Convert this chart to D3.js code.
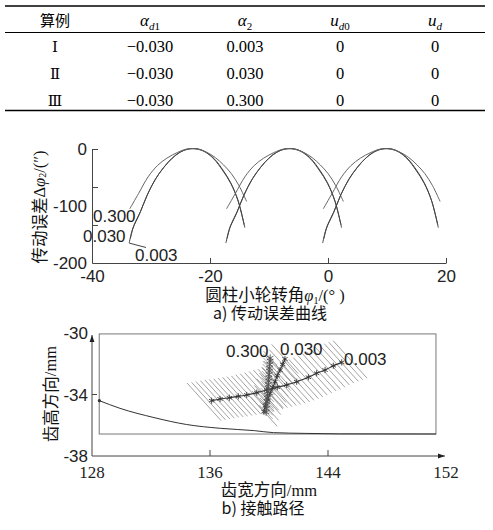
<!DOCTYPE html>
<html><head><meta charset="utf-8">
<script src="https://cdn.jsdelivr.net/npm/d3@7"></script>
<style>body{margin:0;background:#fff}svg{display:block}</style>
</head><body>
<svg id="c" width="493" height="530"></svg>
<script>
// ---------------- data ----------------
const caseLabels = ["Ⅰ","Ⅱ","Ⅲ"];
const alphaD1 = ["−0.030","−0.030","−0.030"];
const alpha2 = ["0.003","0.030","0.300"];
const uD0 = ["0","0","0"];
const uD = ["0","0","0"];

// chart a) transmission error, one profile per series repeated at each tooth centre
const toothCenters = [-22.9, -6.5, 9.9];
const seriesNames = ["0.003","0.030","0.300"];
const dx003 = [-10.8,-10.2,-9.0,-7.8,-6.4,-5.0,-3.6,-2.2,-0.8,0.8,2.2,3.6,5.0,6.4,7.7,8.8];
const err003 = [-165,-140,-113,-82,-54,-33,-17,-6,0,0,-6,-18,-37,-60,-92,-138];
const dx030 = [-10.6,-10.0,-8.9,-7.7,-6.3,-4.9,-3.5,-2.1,-0.7,0.9,2.3,3.7,5.1,6.4,7.6,8.7];
const err030 = [-157,-134,-110,-80,-52,-32,-16,-5,0,0,-6,-18,-37,-59,-89,-133];
const dx300 = [-10.7,-9.2,-7.6,-6.0,-4.4,-2.6,-1.0,0.6,2.2,3.8,5.2,6.5,7.8,9.1];
const err300 = [-105,-78,-49,-29,-16,-6,0,0,-5,-15,-28,-43,-64,-92];
const xTicksA = [-40,-20,0,20];
const yLabelsA = [0,-100,-200];
const yTicksA = [0,-66.7,-133.3];

// chart b) contact path (mm)
const xTicksB = [128,136,144,152];
const yTicksB = [-30,-34,-38];
const faceX = [128.49,151.32];
const faceY = [-36.57,-30.06];
const rootX = [128.5,129.9,132.2,134.4,136.7,139.0,140.3,142.5,144.8,151.32];
const rootY = [-34.4,-34.9,-35.5,-35.95,-36.2,-36.35,-36.48,-36.53,-36.56,-36.57];
const path003X = [136.11,136.68,137.31,137.92,138.49,139.17,139.84,140.56,141.2,141.88,142.67,143.23,143.8,144.36,144.93];
const path003Y = [-34.40,-34.29,-34.21,-34.12,-34.03,-33.88,-33.71,-33.53,-33.38,-33.17,-32.88,-32.62,-32.41,-32.13,-31.91];
const hatch003X = [135.6,135.9,136.2,136.5,136.8,137.1,137.4,137.7,138.0,138.3,138.6,138.9,139.2,139.5,139.8,140.1,140.4,140.7,141.0,141.3,141.6,141.9,142.2,142.5,142.8,143.1,143.4,143.7,144.0,144.3,144.6,144.9,145.2,145.5];
const hatch003Y = [-34.48,-34.43,-34.38,-34.32,-34.27,-34.24,-34.2,-34.15,-34.1,-34.06,-34.01,-33.94,-33.87,-33.8,-33.72,-33.64,-33.57,-33.5,-33.43,-33.35,-33.26,-33.16,-33.05,-32.94,-32.82,-32.68,-32.55,-32.45,-32.31,-32.16,-32.04,-31.92,-31.82,-31.72];
const path030X = [139.66,139.75,139.91,140.07,140.25,140.41,140.56,140.75,140.93,141.08];
const path030Y = [-35.12,-34.73,-34.36,-33.92,-33.56,-33.17,-32.78,-32.41,-32.04,-31.69];
const path300X = [139.80,139.82,139.84,139.86,139.88,139.89,139.91,139.93,139.95,139.97,139.98,140.0,140.02,140.03,140.05,140.07,140.08];
const path300Y = [-35.14,-34.91,-34.68,-34.46,-34.23,-34.03,-33.80,-33.58,-33.35,-33.12,-32.93,-32.70,-32.47,-32.28,-32.05,-31.82,-31.63];

// ---------------- drawing ----------------
const svg = d3.select("#c");
const SERIF = "'Liberation Serif','DejaVu Serif',serif";
const SANS = "'Liberation Sans','DejaVu Sans',sans-serif";
const CJK = "'Noto Sans CJK SC','Noto Sans',sans-serif";

// ---- table ----
const tbl = svg.append("g");
const colX = [55,150,245,340,435];
tbl.append("line").attr("x1",5).attr("x2",485).attr("y1",6).attr("y2",6).attr("stroke","#000").attr("stroke-width",1.6);
tbl.append("line").attr("x1",5).attr("x2",485).attr("y1",32.5).attr("y2",32.5).attr("stroke","#000").attr("stroke-width",1);
tbl.append("line").attr("x1",5).attr("x2",485).attr("y1",110.5).attr("y2",110.5).attr("stroke","#000").attr("stroke-width",1.6);

tbl.append("text").attr("x",colX[0]).attr("y",26).attr("text-anchor","middle")
  .style("font-family",CJK).style("font-size","15px").text("算例");
const headerDefs = [
  {base:"α", subI:"d", subN:"1"},
  {base:"α", subI:"", subN:"2"},
  {base:"u", subI:"d", subN:"0"},
  {base:"u", subI:"d", subN:""}
];
headerDefs.forEach((h,i)=>{
  const t = tbl.append("text").attr("x",colX[i+1]).attr("y",26).attr("text-anchor","middle")
    .style("font-family",SERIF).style("font-size","17px");
  t.append("tspan").style("font-style","italic").text(h.base);
  if (h.subI) t.append("tspan").attr("dy",4).style("font-style","italic").style("font-size","11px").text(h.subI);
  if (h.subN) t.append("tspan").attr("dy",h.subI?0:4).style("font-size","11px").text(h.subN);
});
const rowY = [52,79,106];
const cols = [caseLabels, alphaD1, alpha2, uD0, uD];
cols.forEach((col,ci)=>{
  col.forEach((v,ri)=>{
    tbl.append("text").attr("x",colX[ci]).attr("y",rowY[ri]).attr("text-anchor","middle")
      .style("font-family", ci===0 ? "'DejaVu Serif','Noto Sans CJK SC',serif" : SERIF)
      .style("font-size", ci===0 ? "15px" : "16.5px").text(v);
  });
});

// ---- chart a ----
const gA = svg.append("g");
const xA = d3.scaleLinear([-40,20],[92,446]);
const yA = d3.scaleLinear([-200,0],[263,149]);
const axXA = gA.append("g").attr("transform","translate(0,263)")
  .call(d3.axisBottom(xA).tickValues(xTicksA).tickSizeInner(-5).tickSizeOuter(0).tickPadding(0).tickFormat(d=>String(d)));
axXA.selectAll("text").attr("y",19).attr("dy",0).style("font-family",SANS).style("font-size","17px").attr("fill","#222");
const axYA = gA.append("g").attr("transform","translate(92,0)")
  .call(d3.axisLeft(yA).tickValues(yTicksA).tickSizeInner(-6).tickSizeOuter(0).tickFormat(""));
gA.selectAll(".domain, .tick line").attr("stroke","#444");
yLabelsA.forEach(v=>{
  gA.append("text").attr("x",87).attr("y",yA(v)).attr("dy","0.36em").attr("text-anchor","end")
    .style("font-family",SANS).style("font-size","17px").attr("fill","#222").text(String(v));
});
const profiles = [[dx003,err003],[dx030,err030],[dx300,err300]];
const lineA = d3.line().x(d=>xA(d[0])).y(d=>yA(d[1])).curve(d3.curveCatmullRom.alpha(0.5));
toothCenters.forEach(c=>{
  profiles.forEach(([dx,err],si)=>{
    gA.append("path").datum(dx.map((d,i)=>[c+d, err[i]]))
      .attr("d",lineA).attr("fill","none")
      .attr("stroke", si===2 ? "#666" : "#444").attr("stroke-width",1);
  });
});
// series labels
gA.append("text").attr("x",93).attr("y",222).style("font-family",SANS).style("font-size","17px").attr("fill","#222").text(seriesNames[2]);
gA.append("text").attr("x",83).attr("y",242).style("font-family",SANS).style("font-size","17px").attr("fill","#222").text(seriesNames[1]);
gA.append("text").attr("x",135).attr("y",261).style("font-family",SANS).style("font-size","17px").attr("fill","#222").text(seriesNames[0]);
gA.append("line").attr("x1",xA(toothCenters[0]+dx003[0])).attr("y1",yA(err003[0]))
  .attr("x2",146).attr("y2",247.5).attr("stroke","#444").attr("stroke-width",1);
// titles
const tA = gA.append("text").attr("x",275).attr("y",301).attr("text-anchor","middle")
  .style("font-family",CJK).style("font-size","16.5px").attr("fill","#111");
tA.append("tspan").text("圆柱小轮转角");
tA.append("tspan").style("font-family",SERIF).style("font-style","italic").text("φ");
tA.append("tspan").attr("dy",3).style("font-family",SERIF).style("font-size","10px").text("1");
tA.append("tspan").attr("dy",-3).style("font-family",SERIF).text("/(° )");
const yTA = gA.append("text").attr("transform","translate(39,207) rotate(-90)").attr("text-anchor","middle")
  .attr("dominant-baseline","central").style("font-family",CJK).style("font-size","16.5px").attr("fill","#111");
yTA.append("tspan").text("传动误差");
yTA.append("tspan").style("font-family",SERIF).text("Δ");
yTA.append("tspan").style("font-family",SERIF).style("font-style","italic").text("φ");
yTA.append("tspan").attr("dy",3).style("font-family",SERIF).style("font-size","10px").text("2");
yTA.append("tspan").attr("dy",-3).style("font-family",SERIF).text("/(″)");
gA.append("text").attr("x",270).attr("y",319).attr("text-anchor","middle")
  .style("font-family",CJK).style("font-size","16px").attr("fill","#111")
  .text("a) 传动误差曲线");

// ---- chart b ----
const gB = svg.append("g");
const xB = d3.scaleLinear([128,152],[92,446]);
const yB = d3.scaleLinear([-38,-30],[456,333]);
const defs = svg.append("defs");
defs.append("marker").attr("id","arr").attr("viewBox","0 0 10 10").attr("refX",10).attr("refY",5)
  .attr("markerWidth",9).attr("markerHeight",7).attr("markerUnits","userSpaceOnUse").attr("orient","auto")
  .append("path").attr("d","M0,1.5L10,5L0,8.5Z").attr("fill","#222");
// axes
gB.append("line").attr("x1",xB(128)).attr("y1",yB(-38)).attr("x2",xB(152)-1).attr("y2",yB(-38))
  .attr("stroke","#444").attr("stroke-width",1).attr("marker-end","url(#arr)");
gB.append("line").attr("x1",xB(128)).attr("y1",yB(-38)).attr("x2",xB(128)).attr("y2",yB(-30)+2)
  .attr("stroke","#444").attr("stroke-width",1).attr("marker-end","url(#arr)");
xTicksB.forEach(v=>{
  if (v>128 && v<152) gB.append("line").attr("x1",xB(v)).attr("x2",xB(v)).attr("y1",yB(-38)).attr("y2",yB(-38)-6).attr("stroke","#444");
  gB.append("text").attr("x",xB(v)).attr("y",478).attr("text-anchor","middle")
    .style("font-family",SERIF).style("font-size","17px").attr("fill","#222").text(String(v));
});
yTicksB.forEach(v=>{
  if (v>-38 && v<-30) gB.append("line").attr("x1",xB(128)).attr("x2",xB(128)+5).attr("y1",yB(v)).attr("y2",yB(v)).attr("stroke","#444");
  gB.append("text").attr("x",88).attr("y",yB(v)).attr("dy","0.36em").attr("text-anchor","end")
    .style("font-family",SANS).style("font-size","17px").attr("fill","#222").text(String(v));
});
// tooth face boundary
gB.append("rect").attr("x",xB(faceX[0])).attr("y",yB(faceY[1]))
  .attr("width",xB(faceX[1])-xB(faceX[0])).attr("height",yB(faceY[0])-yB(faceY[1]))
  .attr("fill","none").attr("stroke","#777").attr("stroke-width",1);
const lineB = d3.line().x(d=>xB(d[0])).y(d=>yB(d[1]));
gB.append("path").datum(rootX.map((x,i)=>[x,rootY[i]])).attr("d",lineB.curve(d3.curveMonotoneX))
  .attr("fill","none").attr("stroke","#333").attr("stroke-width",1);
gB.append("circle").attr("cx",xB(rootX[0])).attr("cy",yB(rootY[0])).attr("r",1.6).attr("fill","#333");

// contact lines (hatching)
function hatch(xs, ys, hdx, hdy, color, w){
  gB.append("g").selectAll("line").data(xs.map((x,i)=>[x,ys[i]])).join("line")
    .attr("x1",d=>xB(d[0]-hdx)).attr("y1",d=>yB(d[1]+hdy))
    .attr("x2",d=>xB(d[0]+hdx)).attr("y2",d=>yB(d[1]-hdy))
    .attr("stroke",color).attr("stroke-width",w);
}
hatch(hatch003X, hatch003Y, 1.15, 1.22, "#8a8a8a", 0.8);
hatch(path030X, path030Y, 0.9, 0.95, "#8a8a8a", 0.8);
hatch(path300X, path300Y, 0.45, 0.45, "#999", 0.8);

// contact paths with markers
function cpath(xs, ys, color, w, msize){
  const pts = xs.map((x,i)=>[x,ys[i]]);
  gB.append("path").datum(pts).attr("d",d3.line().x(d=>xB(d[0])).y(d=>yB(d[1])).curve(d3.curveCatmullRom)(pts))
    .attr("fill","none").attr("stroke",color).attr("stroke-width",w);
  const sym = d3.symbol(d3.symbolAsterisk, msize);
  gB.append("g").selectAll("path").data(pts).join("path")
    .attr("transform",d=>`translate(${xB(d[0])},${yB(d[1])})`).attr("d",sym)
    .attr("fill","none").attr("stroke",color).attr("stroke-width",0.9);
}
cpath(path003X, path003Y, "#333", 1.1, 26);
cpath(path030X, path030Y, "#333", 1.1, 26);
cpath(path300X, path300Y, "#555", 1.1, 40);

gB.append("text").attr("x",226).attr("y",357).style("font-family",SANS).style("font-size","17px").attr("fill","#222").text(seriesNames[2]);
gB.append("text").attr("x",280).attr("y",355).style("font-family",SANS).style("font-size","17px").attr("fill","#222").text(seriesNames[1]);
gB.append("text").attr("x",344).attr("y",365).style("font-family",SANS).style("font-size","17px").attr("fill","#222").text(seriesNames[0]);

const tB = gB.append("text").attr("x",269).attr("y",496).attr("text-anchor","middle")
  .style("font-family",CJK).style("font-size","16.5px").attr("fill","#111");
tB.append("tspan").text("齿宽方向");
tB.append("tspan").style("font-family",SERIF).text("/mm");
const yTB = gB.append("text").attr("transform","translate(50,394) rotate(-90)").attr("text-anchor","middle")
  .attr("dominant-baseline","central").style("font-family",CJK).style("font-size","16.5px").attr("fill","#111");
yTB.append("tspan").text("齿高方向");
yTB.append("tspan").style("font-family",SERIF).text("/mm");
gB.append("text").attr("x",263).attr("y",514).attr("text-anchor","middle")
  .style("font-family",CJK).style("font-size","16px").attr("fill","#111")
  .text("b) 接触路径");
</script>
</body></html>
